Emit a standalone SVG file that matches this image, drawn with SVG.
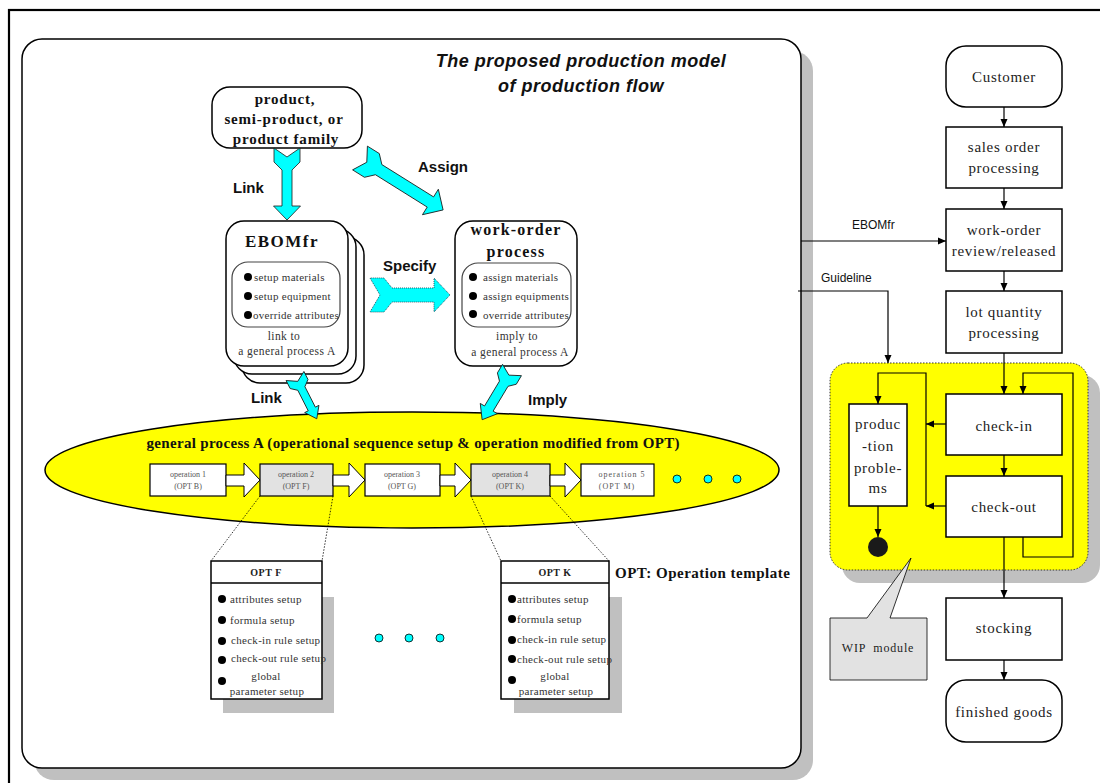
<svg xmlns="http://www.w3.org/2000/svg" width="1100" height="783" viewBox="0 0 1100 783">
  <style>
    .serif { font-family: "Liberation Serif", "Times New Roman", serif; }
    .sans { font-family: "Liberation Sans", Arial, sans-serif; }
    .box { fill: #ffffff; stroke: #000; stroke-width: 1.5; }
    .inner { fill: none; stroke: #444; stroke-width: 1.2; }
    .cyan { fill: #00ffff; stroke: #1a1a1a; stroke-width: 0.8; stroke-linejoin: round; }
    .cyan-dot { fill: #00ffff; stroke: #1a4a5a; stroke-width: 0.9; stroke-dasharray: 1 1; }
    .blk { fill: #ffffff; stroke: #000; stroke-width: 1; }
    .op { fill: #ffffff; stroke: #000; stroke-width: 1.2; }
    .opg { fill: #e2e2e2; stroke: #000; stroke-width: 1.2; }
    .optxt { font-size: 8px; fill: #555; text-anchor: middle; }
    .lbl { font-size: 15px; font-weight: bold; fill: #111; }
    .item { font-size: 11px; fill: #333; letter-spacing: 0.3px; }
    .rtxt { font-size: 15px; fill: #222; text-anchor: middle; letter-spacing: 0.7px; }
    .flow { fill: none; stroke: #000; stroke-width: 1.2; }
    .dotline { fill: none; stroke: #000; stroke-width: 0.8; stroke-dasharray: 1.5 1.5; }
    .shadow { fill: #c0c0c0; }
  </style>
  <defs>
    <marker id="ah" markerWidth="9" markerHeight="9" refX="8" refY="4.5" orient="auto" markerUnits="userSpaceOnUse">
      <path d="M0,1 L8,4.5 L0,8 Z" fill="#000"/>
    </marker>
  </defs>

  <!-- outer frame -->
  <rect x="9" y="10" width="1110" height="790" fill="#fff" stroke="#000" stroke-width="2.2"/>

  <!-- main production model panel -->
  <g id="model-panel">
    <rect class="shadow" x="34" y="51" width="779" height="729" rx="20"/>
    <rect x="22" y="39" width="779" height="729" rx="20" fill="#fff" stroke="#000" stroke-width="1.5"/>
    <text class="sans" x="581" y="67" font-size="18" font-weight="bold" font-style="italic" text-anchor="middle" letter-spacing="0.5" fill="#111">The proposed production model</text>
    <text class="sans" x="581" y="92" font-size="18" font-weight="bold" font-style="italic" text-anchor="middle" letter-spacing="0.5" fill="#111">of production flow</text>
  </g>

  <!-- product node -->
  <g id="product">
    <rect class="box" x="212" y="87" width="150" height="61" rx="18"/>
    <text class="serif" x="285" y="104" font-size="15" font-weight="bold" text-anchor="middle" letter-spacing="0.8" fill="#111">product,</text>
    <text class="serif" x="284" y="124" font-size="15" font-weight="bold" text-anchor="middle" letter-spacing="0.8" fill="#111">semi-product, or</text>
    <text class="serif" x="286" y="144" font-size="15" font-weight="bold" text-anchor="middle" letter-spacing="0.8" fill="#111">product family</text>
  </g>

  <!-- EBOMfr node (stacked) -->
  <g id="ebomfr">
    <rect class="box" x="242" y="237" width="122" height="146" rx="18"/>
    <rect class="box" x="234" y="229" width="122" height="145" rx="18"/>
    <rect class="box" x="226" y="221" width="122" height="145" rx="18"/>
    <text class="serif" x="282" y="247" font-size="17" font-weight="bold" text-anchor="middle" letter-spacing="1.5" fill="#111">EBOMfr</text>
    <rect class="inner" x="232" y="262" width="108" height="65" rx="16"/>
    <circle cx="248" cy="277" r="4"/>
    <circle cx="248" cy="296" r="4"/>
    <circle cx="248" cy="315" r="4"/>
    <text class="serif item" x="254" y="281">setup materials</text>
    <text class="serif item" x="254" y="300">setup equipment</text>
    <text class="serif item" x="253" y="319" letter-spacing="0.1">override attributes</text>
    <text class="serif" x="284" y="340" font-size="11.5" text-anchor="middle" fill="#333" letter-spacing="0.4">link to</text>
    <text class="serif" x="287" y="355" font-size="11.5" text-anchor="middle" fill="#333" letter-spacing="0.4">a general process A</text>
  </g>

  <!-- work-order process node -->
  <g id="work-order-process">
    <rect class="box" x="455" y="221" width="122" height="145" rx="18"/>
    <text class="serif" x="516" y="235" font-size="16" font-weight="bold" text-anchor="middle" letter-spacing="1.2" fill="#111">work-order</text>
    <text class="serif" x="516" y="257" font-size="16" font-weight="bold" text-anchor="middle" letter-spacing="1.2" fill="#111">process</text>
    <rect class="inner" x="462" y="263" width="109" height="64" rx="16"/>
    <circle cx="473" cy="277" r="4"/>
    <circle cx="473" cy="296" r="4"/>
    <circle cx="473" cy="314" r="4"/>
    <text class="serif item" x="483" y="281">assign materials</text>
    <text class="serif item" x="483" y="300" letter-spacing="0.9">assign equipments</text>
    <text class="serif item" x="483" y="319" letter-spacing="0.1">override attributes</text>
    <text class="serif" x="517" y="340" font-size="11.5" text-anchor="middle" fill="#333" letter-spacing="0.4">imply to</text>
    <text class="serif" x="520" y="356" font-size="11.5" text-anchor="middle" fill="#333" letter-spacing="0.4">a general process A</text>
  </g>

  <!-- general process A -->
  <g id="general-process">
    <ellipse cx="412" cy="470" rx="367" ry="58" fill="#ffff00" stroke="#000" stroke-width="1.5"/>
    <text class="serif" x="413" y="448" font-size="15" font-weight="bold" text-anchor="middle" textLength="533" lengthAdjust="spacing" fill="#111">general process A (operational sequence setup &amp; operation modified from OPT)</text>
    <rect class="op" x="150" y="464" width="76" height="32"/>
    <text class="serif optxt" x="188" y="477">operation 1</text>
    <text class="serif optxt" x="188" y="489">(OPT B)</text>
    <rect class="opg" x="260" y="464" width="73" height="32"/>
    <text class="serif optxt" x="296" y="477">operation 2</text>
    <text class="serif optxt" x="296" y="489">(OPT F)</text>
    <rect class="op" x="365" y="464" width="75" height="32"/>
    <text class="serif optxt" x="402" y="477">operation 3</text>
    <text class="serif optxt" x="402" y="489">(OPT G)</text>
    <rect class="opg" x="471" y="464" width="79" height="32"/>
    <text class="serif optxt" x="510" y="477">operation 4</text>
    <text class="serif optxt" x="510" y="489">(OPT K)</text>
    <rect class="op" x="581" y="464" width="73" height="32"/>
    <text class="serif optxt" x="622" y="477" letter-spacing="1">operation 5</text>
    <text class="serif optxt" x="617" y="489" letter-spacing="1">(OPT M)</text>
    <circle cx="677" cy="479" r="4" fill="#00ffff" stroke="#000" stroke-width="0.8"/>
    <circle cx="708" cy="479" r="4" fill="#00ffff" stroke="#000" stroke-width="0.8"/>
    <circle cx="737" cy="479" r="4" fill="#00ffff" stroke="#000" stroke-width="0.8"/>
  </g>

  <!-- operation templates -->
  <g id="opt-f">
    <rect class="shadow" x="223" y="597" width="111" height="116"/>
    <rect class="box" x="211" y="561" width="111" height="138" stroke-width="1.6"/>
    <line x1="211" y1="583" x2="322" y2="583" stroke="#000" stroke-width="1.6"/>
    <text class="serif" x="266" y="576" font-size="10" font-weight="bold" text-anchor="middle" letter-spacing="0.5" fill="#222">OPT F</text>
    <circle cx="222" cy="599" r="4"/>
    <circle cx="222" cy="620" r="4"/>
    <circle cx="222" cy="641" r="4"/>
    <circle cx="222" cy="660" r="4"/>
    <circle cx="222" cy="681" r="4"/>
    <text class="serif item" x="230" y="603" letter-spacing="0.2">attributes setup</text>
    <text class="serif item" x="230" y="624" letter-spacing="0.2">formula setup</text>
    <text class="serif item" x="231" y="644" letter-spacing="0.2">check-in rule setup</text>
    <text class="serif item" x="231" y="662" letter-spacing="0.1">check-out rule setup</text>
    <text class="serif item" x="266" y="680" text-anchor="middle" letter-spacing="0.2">global</text>
    <text class="serif item" x="267" y="695" text-anchor="middle" letter-spacing="0.2">parameter setup</text>
  </g>

  <g id="opt-k">
    <rect class="shadow" x="514" y="597" width="108" height="116"/>
    <rect class="box" x="501" y="561" width="108" height="138" stroke-width="1.6"/>
    <line x1="501" y1="583" x2="609" y2="583" stroke="#000" stroke-width="1.6"/>
    <text class="serif" x="555" y="576" font-size="10" font-weight="bold" text-anchor="middle" letter-spacing="0.5" fill="#222">OPT K</text>
    <circle cx="512" cy="599" r="4"/>
    <circle cx="512" cy="619" r="4"/>
    <circle cx="512" cy="640" r="4"/>
    <circle cx="512" cy="659" r="4"/>
    <circle cx="512" cy="680" r="4"/>
    <text class="serif item" x="517" y="603" letter-spacing="0.2">attributes setup</text>
    <text class="serif item" x="517" y="623" letter-spacing="0.2">formula setup</text>
    <text class="serif item" x="517" y="643" letter-spacing="0.2">check-in rule setup</text>
    <text class="serif item" x="517" y="663" letter-spacing="0.1">check-out rule setup</text>
    <text class="serif item" x="555" y="680" text-anchor="middle" letter-spacing="0.2">global</text>
    <text class="serif item" x="556" y="695" text-anchor="middle" letter-spacing="0.2">parameter setup</text>
  </g>

  <g id="opt-legend">
    <text class="serif" x="615" y="578" font-size="15" font-weight="bold" letter-spacing="0.5" fill="#111">OPT: Operation template</text>
    <circle cx="379" cy="638" r="4" fill="#00ffff" stroke="#000" stroke-width="0.8"/>
    <circle cx="409" cy="638" r="4" fill="#00ffff" stroke="#000" stroke-width="0.8"/>
    <circle cx="440" cy="638" r="4" fill="#00ffff" stroke="#000" stroke-width="0.8"/>
  </g>

  <!-- right column: order flow -->
  <g id="customer">
    <rect class="box" x="946" y="46" width="116" height="61" rx="20"/>
    <text class="serif rtxt" x="1004" y="82" font-size="14">Customer</text>
  </g>
  <g id="sales-order">
    <rect class="box" x="946" y="127" width="116" height="61"/>
    <text class="serif rtxt" x="1004" y="152">sales order</text>
    <text class="serif rtxt" x="1004" y="173">processing</text>
  </g>
  <g id="work-order-review">
    <rect class="box" x="946" y="209" width="116" height="62"/>
    <text class="serif rtxt" x="1004" y="235">work-order</text>
    <text class="serif rtxt" x="1004" y="256">review/released</text>
  </g>
  <g id="lot-quantity">
    <rect class="box" x="946" y="291" width="116" height="62"/>
    <text class="serif rtxt" x="1004" y="317">lot quantity</text>
    <text class="serif rtxt" x="1004" y="338">processing</text>
  </g>

  <!-- WIP module -->
  <g id="wip-module">
    <rect class="shadow" x="842" y="375" width="258" height="208" rx="18"/>
    <rect x="830" y="363" width="258" height="207" rx="18" fill="#ffff00" stroke="#333" stroke-width="1" stroke-dasharray="1.5 1.5"/>
  </g>
  <g id="check-in">
    <rect class="box" x="946" y="394" width="116" height="61"/>
    <text class="serif rtxt" x="1004" y="431">check-in</text>
  </g>
  <g id="check-out">
    <rect class="box" x="946" y="476" width="116" height="61"/>
    <text class="serif rtxt" x="1004" y="512">check-out</text>
  </g>
  <g id="production-problems">
    <rect class="box" x="849" y="404" width="58" height="102"/>
    <text class="serif rtxt" x="878" y="429">produc</text>
    <text class="serif rtxt" x="878" y="451">-tion</text>
    <text class="serif rtxt" x="878" y="473">proble-</text>
    <text class="serif rtxt" x="878" y="493">ms</text>
  </g>
  <g id="end-point">
    <circle cx="878" cy="547" r="10" fill="#1a1a1a"/>
  </g>
  <g id="stocking">
    <rect class="box" x="946" y="598" width="116" height="62"/>
    <text class="serif rtxt" x="1004" y="633">stocking</text>
  </g>
  <g id="finished-goods">
    <rect class="box" x="946" y="680" width="116" height="62" rx="20"/>
    <text class="serif rtxt" x="1004" y="717">finished goods</text>
  </g>
  <g id="wip-callout">
    <path d="M830,618 L867,618 L911,558 L890,618 L927,618 L927,680 L830,680 Z" fill="#e2e2e2" stroke="#000" stroke-width="0.8"/>
    <text class="serif" x="878" y="652" font-size="12" text-anchor="middle" letter-spacing="0.8" fill="#222" xml:space="preserve">WIP  module</text>
  </g>

  <!-- connectors -->
  <g id="connectors">
    <!-- block arrows of the production model -->
    <polygon class="cyan" transform="translate(287,148) rotate(90)" points="0,-13 9,0 0,13 14,13 22,5 58,5 58,13.5 72,0 58,-13.5 58,-5 22,-5 14,-13"/>
    <polygon class="cyan" transform="translate(360,158) rotate(32)" points="0,-14 8,0 0,14 14,14 22,6 83,6 83,15 98,0 83,-15 83,-6 22,-6 14,-14"/>
    <polygon class="cyan-dot" transform="translate(370,295)" points="0,-17 10,0 0,17 14,17 22,7 64,7 64,17 80,0 64,-17 64,-7 22,-7 14,-17"/>
    <polygon class="cyan" transform="translate(295,376) rotate(63)" points="0,-10 6,0 0,10 9,10 14,4 37,4 37,8 48,0 37,-8 37,-4 14,-4 9,-10"/>
    <polygon class="cyan" transform="translate(512,370) rotate(121)" points="0,-11 6,0 0,11 10,11 16,5 45,5 45,10 58,0 45,-10 45,-5 16,-5 10,-11"/>
    <text class="sans lbl" x="233" y="193">Link</text>
    <text class="sans lbl" x="418" y="172">Assign</text>
    <text class="sans lbl" x="383" y="271">Specify</text>
    <text class="sans lbl" x="251" y="403">Link</text>
    <text class="sans lbl" x="528" y="405">Imply</text>

    <!-- operation sequence arrows -->
    <polygon class="blk" points="226,475 244,475 244,463 260,480 244,497 244,486 226,486"/>
    <polygon class="blk" points="333,475 349,475 349,463 365,480 349,497 349,486 333,486"/>
    <polygon class="blk" points="440,475 455,475 455,463 471,480 455,497 455,486 440,486"/>
    <polygon class="blk" points="550,475 565,475 565,463 581,480 565,497 565,486 550,486"/>

    <!-- template call-outs -->
    <line class="dotline" x1="260" y1="496" x2="211" y2="561"/>
    <line class="dotline" x1="333" y1="496" x2="322" y2="561"/>
    <line class="dotline" x1="471" y1="496" x2="501" y2="561"/>
    <line class="dotline" x1="550" y1="496" x2="609" y2="561"/>

    <!-- order flow -->
    <line class="flow" x1="1004" y1="107" x2="1004" y2="127" marker-end="url(#ah)"/>
    <line class="flow" x1="1004" y1="188" x2="1004" y2="209" marker-end="url(#ah)"/>
    <line class="flow" x1="1004" y1="271" x2="1004" y2="291" marker-end="url(#ah)"/>
    <line class="flow" x1="1004" y1="353" x2="1004" y2="394" marker-end="url(#ah)"/>
    <line class="flow" x1="1004" y1="455" x2="1004" y2="476" marker-end="url(#ah)"/>
    <line class="flow" x1="1004" y1="537" x2="1004" y2="598" marker-end="url(#ah)"/>
    <line class="flow" x1="1004" y1="660" x2="1004" y2="680" marker-end="url(#ah)"/>
    <line class="flow" x1="801" y1="241" x2="946" y2="241" marker-end="url(#ah)"/>
    <text class="sans" x="852" y="229" font-size="12" fill="#111">EBOMfr</text>
    <polyline class="flow" points="798,291 888,291 888,363" marker-end="url(#ah)"/>
    <text class="sans" x="821" y="282" font-size="12" fill="#111">Guideline</text>

    <!-- WIP module internals -->
    <line class="flow" x1="946" y1="424" x2="926" y2="424" marker-end="url(#ah)"/>
    <line class="flow" x1="946" y1="506" x2="926" y2="506" marker-end="url(#ah)"/>
    <polyline class="flow" points="926,506 926,373 878,373 878,404" marker-end="url(#ah)"/>
    <line class="flow" x1="878" y1="506" x2="878" y2="537" marker-end="url(#ah)"/>
    <polyline class="flow" points="1023,537 1023,557 1073,557 1073,373 1023,373 1023,394" marker-end="url(#ah)"/>
  </g>
</svg>
